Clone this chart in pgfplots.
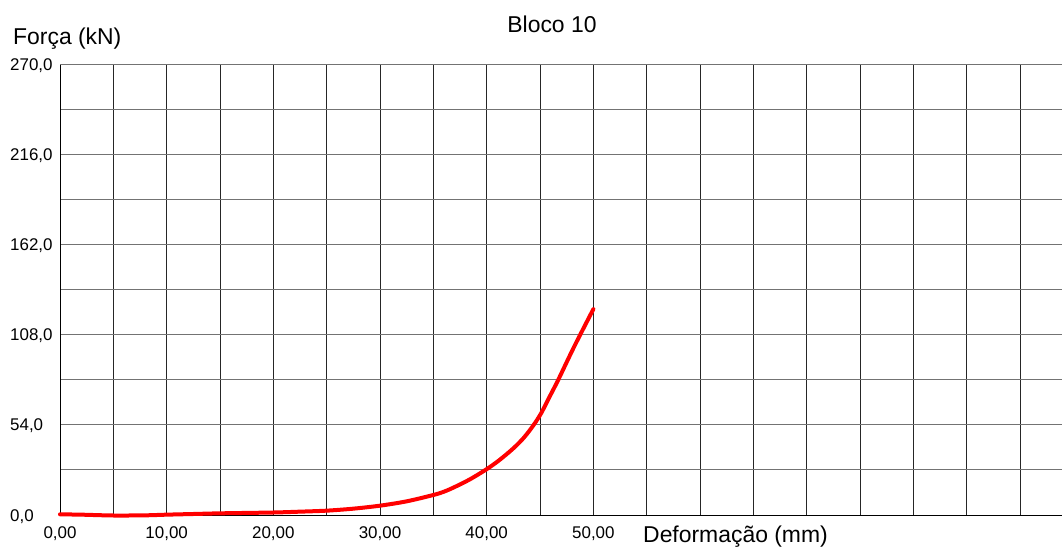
\documentclass[border=0pt]{standalone}
\usepackage{fontspec}
\setmainfont{Liberation Sans}
\usepackage{pgfplots}
\pgfplotsset{compat=1.18}
\begin{document}
\begin{tikzpicture}
\useasboundingbox (0,0) rectangle (1062bp,550bp);
\begin{axis}[
  at={(60bp,35bp)}, anchor=origin,
  scale only axis, width=1002bp, height=450bp,
  xmin=0, xmax=93.94, ymin=0, ymax=270,
  axis x line*=bottom, axis y line*=left,
  x axis line style={-, black, line width=1bp},
  y axis line style={-, black, line width=1bp},
  xtick={0,5,...,90},
  xticklabels={{0,00},{},{10,00},{},{20,00},{},{30,00},{},{40,00},{},{50,00},{},{},{},{},{},{},{},{}},
  ytick={0,27,...,270},
  yticklabels={{0,0},{},{54,0},{},{108,0},{},{162,0},{},{216,0},{},{270,0}},
  major tick length=0pt,
  grid=major,
  x grid style={black!85, line width=1bp},
  y grid style={black!55, line width=1bp},
  xticklabel style={font=\fontsize{17}{19}\selectfont, anchor=north, inner sep=0pt, yshift=-11.5bp},
  yticklabel style={font=\fontsize{17}{19}\selectfont, anchor=base west, inner sep=0pt, xshift=-50bp, yshift=-6bp},
  clip=false,
]
\addplot[red, line width=4bp, line join=round, line cap=round, smooth, tension=0.5] coordinates {
(0,0.4) (2,0.2) (5,-0.3) (8,-0.2) (10,0.2) (12.5,0.6) (15,1.0) (20,1.5) (22.5,2.0)
(25,2.6) (27.5,3.8) (30,5.6) (32.5,8.2) (35,12) (36,14) (37,16.8) (38.4,21.3) (40,27.5)
(41.2,33) (42.5,40) (43.5,46.5) (44.4,54) (45.1,61) (45.9,71) (46.7,81) (48.2,101) (50,123.5)
};
\end{axis}
\node[anchor=base west, inner sep=0pt, font=\fontsize{23}{26}\selectfont] at (13bp,505bp) {Força (kN)};
\node[anchor=base, inner sep=0pt, font=\fontsize{23}{26}\selectfont] at (552bp,517bp) {Bloco 10};
\node[anchor=base west, inner sep=0pt, font=\fontsize{23}{26}\selectfont] at (643bp,7.5bp) {Deformação (mm)};
\end{tikzpicture}
\end{document}
